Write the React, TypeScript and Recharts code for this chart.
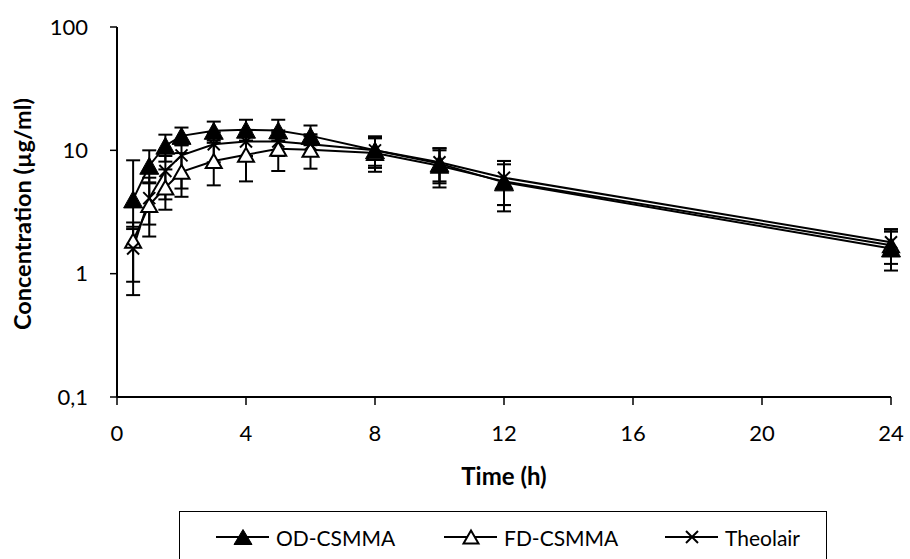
import React from 'react';
import { LineChart, Line, XAxis, YAxis, ErrorBar } from 'recharts';

// sampling times (h)
const times = [0.5, 1, 1.5, 2, 3, 4, 5, 6, 8, 10, 12, 24];

// mean concentrations (µg/ml)
const odMean = [4.0, 7.5, 10.9, 13.1, 14.4, 14.7, 14.5, 13.1, 10.0, 7.8, 5.5, 1.6];
const fdMean = [1.85, 3.6, 5.0, 6.7, 8.2, 9.2, 10.3, 10.1, 9.5, 7.5, 5.6, 1.7];
const thMean = [1.6, 4.1, 6.8, 9.1, 11.2, 11.8, 11.8, 11.2, 10.0, 8.0, 6.0, 1.8];

// error bar ends (low / high)
const odLow = [2.4, 5.4, 8.1, 11.0, 12.0, 12.0, 12.0, 11.0, 7.5, 5.6, 3.6, 1.06];
const odHigh = [8.3, 10.0, 13.4, 15.3, 17.1, 17.7, 17.7, 15.9, 13.0, 10.4, 7.7, 2.2];
const fdLow = [0.86, 2.0, 3.3, 4.2, 5.2, 5.6, 6.8, 7.1, 6.7, 5.0, 3.2, 1.2];
const fdHigh = [2.6, 5.5, 7.0, 9.5, 11.5, 13.0, 14.0, 13.0, 12.5, 10.0, 8.2, 2.2];
const thLow = [0.67, 2.5, 4.0, 4.9, 8.0, 9.0, 9.0, 9.0, 7.2, 5.4, 3.6, 1.4];
const thHigh = [2.3, 6.0, 9.0, 11.0, 14.0, 14.5, 14.5, 13.5, 12.8, 10.4, 8.2, 2.3];

const xTicks = [0, 4, 8, 12, 16, 20, 24];
const yTicks = [0.1, 1, 10, 100];

const FONT = 'Lato, "Open Sans", sans-serif';

const data = times.map((t, i) => ({
  t,
  od: odMean[i],
  odErr: [odMean[i] - odLow[i], odHigh[i] - odMean[i]],
  fd: fdMean[i],
  fdErr: [fdMean[i] - fdLow[i], fdHigh[i] - fdMean[i]],
  th: thMean[i],
  thErr: [thMean[i] - thLow[i], thHigh[i] - thMean[i]],
}));

function FilledTri({ cx, cy, w = 19, h = 17 }: any) {
  return (
    <polygon
      points={`${cx},${cy - h / 2} ${cx + w / 2},${cy + h / 2} ${cx - w / 2},${cy + h / 2}`}
      fill="#000"
      stroke="#000"
      strokeWidth={1}
    />
  );
}

function OpenTri({ cx, cy, w = 16, h = 14 }: any) {
  return (
    <polygon
      points={`${cx},${cy - h / 2} ${cx + w / 2},${cy + h / 2} ${cx - w / 2},${cy + h / 2}`}
      fill="#fff"
      stroke="#000"
      strokeWidth={2}
    />
  );
}

function Cross({ cx, cy, s = 6 }: any) {
  return (
    <g stroke="#000" strokeWidth={2}>
      <line x1={cx - s} y1={cy - s} x2={cx + s} y2={cy + s} />
      <line x1={cx - s} y1={cy + s} x2={cx + s} y2={cy - s} />
    </g>
  );
}

const fmt = (v: number) => String(v).replace('.', ',');

function LegendItem({ x, label, marker }: any) {
  return (
    <div style={{ position: 'absolute', left: x, top: 0, height: 46, display: 'flex', alignItems: 'center' }}>
      <svg width={54} height={20} style={{ display: 'block' }}>
        <line x1={0} y1={10} x2={53} y2={10} stroke="#000" strokeWidth={2} />
        {marker}
      </svg>
      <span style={{ marginLeft: 6, fontFamily: FONT, fontSize: 21, color: '#000' }}>{label}</span>
    </div>
  );
}

export default function App() {
  return (
    <div style={{ position: 'absolute', left: 0, top: 0, width: 910, height: 559, background: '#fff', overflow: 'hidden' }}>
      <LineChart width={910} height={559} data={data} margin={{ top: 27, right: 19, bottom: 72, left: 0 }}>
        <XAxis
          dataKey="t"
          type="number"
          domain={[0, 24]}
          ticks={xTicks}
          height={90}
          stroke="#000"
          strokeWidth={2}
          tickSize={8}
          tickMargin={20}
          tick={{ fill: '#000', fontSize: 22, fontFamily: FONT }}
          tickLine={{ stroke: '#000', strokeWidth: 1.5 }}
          label={(props: any) => {
            const vb = props.viewBox;
            return (
              <text x={vb.x + vb.width / 2} y={485} textAnchor="middle" fontFamily={FONT} fontWeight="bold" fontSize={24} fill="#000">
                Time (h)
              </text>
            );
          }}
        />
        <YAxis
          type="number"
          scale="log"
          domain={[0.1, 100]}
          ticks={yTicks}
          allowDataOverflow
          width={117}
          stroke="#000"
          strokeWidth={2}
          tickSize={7}
          tickMargin={22}
          tickFormatter={fmt}
          tick={{ fill: '#000', fontSize: 22, fontFamily: FONT }}
          tickLine={{ stroke: '#000', strokeWidth: 1.5 }}
          label={() => (
            <text
              x={22}
              y={214}
              transform="rotate(-90 22 214)"
              textAnchor="middle"
              dominantBaseline="central"
              fontFamily={FONT}
              fontWeight="bold"
              fontSize={23.5}
              fill="#000"
            >
              Concentration (µg/ml)
            </text>
          )}
        />
        <Line
          dataKey="fd"
          type="linear"
          stroke="#000"
          strokeWidth={2}
          isAnimationActive={false}
          dot={(p: any) => <OpenTri key={`fd-${p.index}`} cx={p.cx} cy={p.cy} />}
        >
          <ErrorBar dataKey="fdErr" direction="y" width={7} stroke="#000" strokeWidth={2} isAnimationActive={false} />
        </Line>
        <Line
          dataKey="th"
          type="linear"
          stroke="#000"
          strokeWidth={2}
          isAnimationActive={false}
          dot={(p: any) => <Cross key={`th-${p.index}`} cx={p.cx} cy={p.cy} />}
        >
          <ErrorBar dataKey="thErr" direction="y" width={7} stroke="#000" strokeWidth={2} isAnimationActive={false} />
        </Line>
        <Line
          dataKey="od"
          type="linear"
          stroke="#000"
          strokeWidth={2}
          isAnimationActive={false}
          dot={(p: any) => <FilledTri key={`od-${p.index}`} cx={p.cx} cy={p.cy} />}
        >
          <ErrorBar dataKey="odErr" direction="y" width={7} stroke="#000" strokeWidth={2} isAnimationActive={false} />
        </Line>
      </LineChart>

      {/* legend box */}
      <div
        style={{
          position: 'absolute',
          left: 179,
          top: 511,
          width: 648,
          height: 60,
          border: '1.5px solid #000',
          boxSizing: 'border-box',
        }}
      >
        <div style={{ position: 'relative', width: '100%', height: 46, top: 2 }}>
          <LegendItem x={36} label="OD-CSMMA" marker={<FilledTri cx={27} cy={10} w={18} h={15} />} />
          <LegendItem x={264} label="FD-CSMMA" marker={<OpenTri cx={27} cy={10} w={15} h={13} />} />
          <LegendItem x={485} label="Theolair" marker={<Cross cx={27} cy={10} s={6} />} />
        </div>
      </div>
    </div>
  );
}
